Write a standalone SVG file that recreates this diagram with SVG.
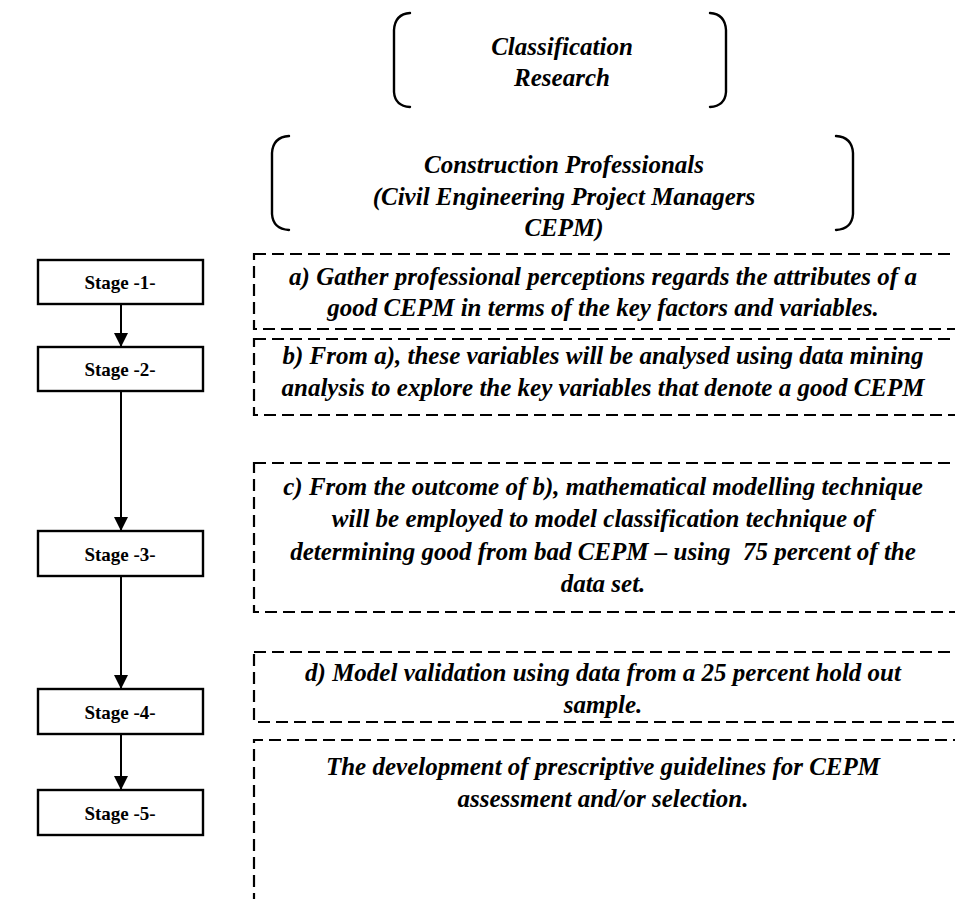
<svg xmlns="http://www.w3.org/2000/svg" width="955" height="899" viewBox="0 0 955 899">
  <defs>
    <marker id="arrow" viewBox="0 0 10 10" refX="10" refY="5" markerWidth="15" markerHeight="14" markerUnits="userSpaceOnUse" orient="auto">
      <path d="M0,0 L10,5 L0,10 z" fill="#000"/>
    </marker>
    <style>
      .bracket { fill: none; stroke: #000; stroke-width: 2.4; stroke-linecap: round; }
      .dash { fill: none; stroke: #000; stroke-width: 2.2; stroke-dasharray: 12 6; }
      .stage rect { fill: #fff; stroke: #000; stroke-width: 2.4; }
      .stage text { font-family: "Liberation Serif", "Times New Roman", serif; font-weight: bold; font-size: 19px; text-anchor: middle; fill: #000; }
      .txt { font-family: "Liberation Serif", "Times New Roman", serif; font-weight: bold; font-style: italic; font-size: 25px; text-anchor: middle; fill: #000; }
      .conn { stroke: #000; stroke-width: 2; fill: none; }
    </style>
  </defs>
  <rect width="955" height="899" fill="#fff"/>

  <!-- Top heading in brackets -->
  <g id="classification-research">
    <path class="bracket" d="M410,13 Q395,14 394,30 L394,92 Q395,106 410,107"/>
    <path class="bracket" d="M710,13 Q725,14 726,30 L726,92 Q725,106 710,107"/>
    <text class="txt" x="562" y="55">Classification</text>
    <text class="txt" x="562" y="86">Research</text>
  </g>

  <g id="construction-professionals">
    <path class="bracket" d="M289,136 Q273,137 272,153 L272,214 Q273,229 289,230"/>
    <path class="bracket" d="M836,136 Q852,137 853,153 L853,214 Q852,229 836,230"/>
    <text class="txt" x="564" y="173">Construction Professionals</text>
    <text class="txt" x="564" y="205">(Civil Engineering Project Managers</text>
    <text class="txt" x="564" y="236">CEPM)</text>
  </g>

  <!-- Stage boxes -->
  <g id="stage1" class="stage"><rect x="38" y="260" width="165" height="44"/><text x="120" y="289">Stage -1-</text></g>
  <g id="stage2" class="stage"><rect x="38" y="347" width="165" height="44"/><text x="120" y="376">Stage -2-</text></g>
  <g id="stage3" class="stage"><rect x="38" y="531" width="165" height="45"/><text x="120" y="561">Stage -3-</text></g>
  <g id="stage4" class="stage"><rect x="38" y="689" width="165" height="45"/><text x="120" y="719">Stage -4-</text></g>
  <g id="stage5" class="stage"><rect x="38" y="790" width="165" height="45"/><text x="120" y="820">Stage -5-</text></g>

  <!-- Connectors between stages -->
  <g id="connectors">
    <line class="conn" x1="121" y1="304" x2="121" y2="347" marker-end="url(#arrow)"/>
    <line class="conn" x1="121" y1="391" x2="121" y2="531" marker-end="url(#arrow)"/>
    <line class="conn" x1="121" y1="576" x2="121" y2="689" marker-end="url(#arrow)"/>
    <line class="conn" x1="121" y1="734" x2="121" y2="790" marker-end="url(#arrow)"/>
  </g>

  <!-- Dashed description panels -->
  <g id="desc-a">
    <rect class="dash" x="254" y="254" width="720" height="75"/>
    <text class="txt" x="603" y="285">a) Gather professional perceptions regards the attributes of a</text>
    <text class="txt" x="603" y="316">good CEPM in terms of the key factors and variables.</text>
  </g>
  <g id="desc-b">
    <rect class="dash" x="254" y="339" width="720" height="76"/>
    <text class="txt" x="603" y="364">b) From a), these variables will be analysed using data mining</text>
    <text class="txt" x="603" y="396">analysis to explore the key variables that denote a good CEPM</text>
  </g>
  <g id="desc-c">
    <rect class="dash" x="254" y="463" width="720" height="149"/>
    <text class="txt" x="603" y="495">c) From the outcome of b), mathematical modelling technique</text>
    <text class="txt" x="603" y="527">will be employed to model classification technique of</text>
    <text class="txt" x="603" y="560">determining good from bad CEPM – using&#160; 75 percent of the</text>
    <text class="txt" x="603" y="592">data set.</text>
  </g>
  <g id="desc-d">
    <rect class="dash" x="254" y="652" width="720" height="70"/>
    <text class="txt" x="603" y="681">d) Model validation using data from a 25 percent hold out</text>
    <text class="txt" x="603" y="713">sample.</text>
  </g>
  <g id="desc-e">
    <path class="dash" d="M254,905 L254,740 L974,740"/>
    <text class="txt" x="603" y="775">The development of prescriptive guidelines for CEPM</text>
    <text class="txt" x="603" y="807">assessment and/or selection.</text>
  </g>
</svg>
